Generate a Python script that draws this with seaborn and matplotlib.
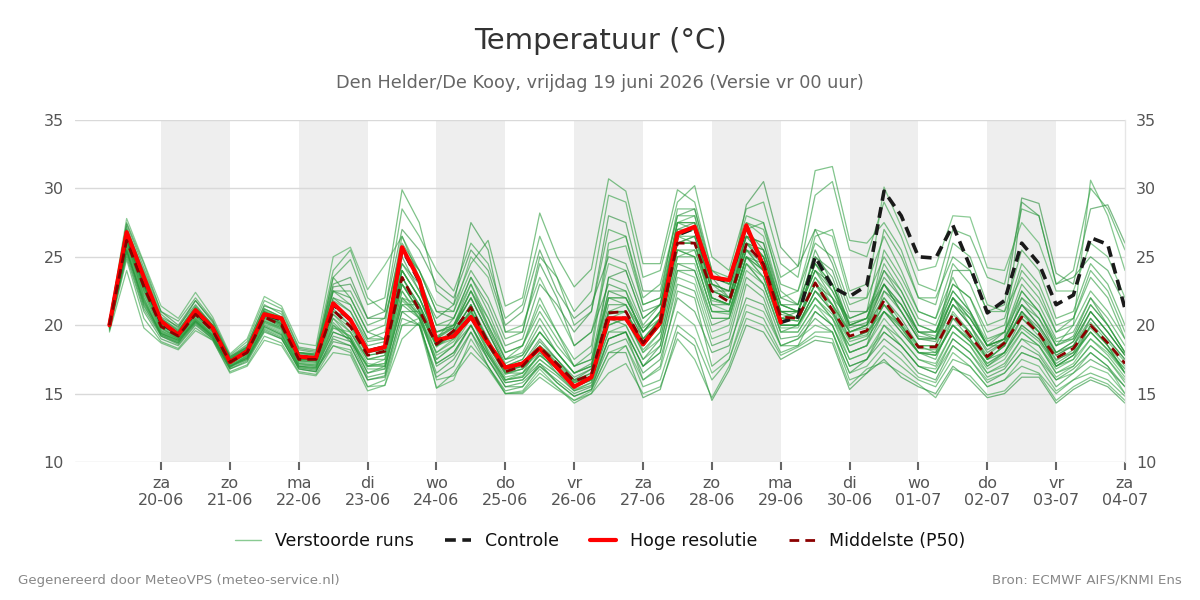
import numpy as np
import pandas as pd
import matplotlib
matplotlib.use("Agg")
import matplotlib.pyplot as plt
from matplotlib.lines import Line2D
import seaborn as sns

# ---------------- data ----------------
start_time = "2026-06-19 06:00"
n_steps = 60  # 6-hourly

hoge_resolutie = [20.0, 26.8, 23.5, 20.3, 19.3, 21.1, 19.8, 17.3, 18.1, 20.8, 20.5, 17.7, 17.6,
                  21.6, 20.4, 18.1, 18.4, 25.7, 23.3, 18.9, 19.2, 20.6, 18.7, 16.9, 17.2, 18.3,
                  16.9, 15.5, 16.2, 20.5, 20.5, 18.6, 20.2, 26.7, 27.2, 23.5, 23.3, 27.3, 24.3, 20.2]

controle = [20.0, 26.6, 23.4, 20.2, 19.3, 21.0, 19.8, 17.3, 18.1, 20.8, 20.4, 17.7, 17.6,
            21.5, 20.4, 18.1, 18.4, 25.6, 23.2, 18.9, 19.2, 20.6, 18.7, 16.9, 17.2, 18.3,
            16.9, 15.5, 16.2, 20.5, 20.5, 18.6, 20.2, 26.6, 27.1, 23.5, 23.2, 27.2, 24.3, 20.2,
            20.6, 25.0, 22.8, 22.1, 22.9, 29.8, 28.0, 25.0, 24.9, 27.3, 24.3, 20.9, 21.8, 26.0,
            24.5, 21.5, 22.2, 26.4, 25.9, 21.2]

middelste_p50 = [20.0, 26.2, 22.8, 19.9, 19.2, 20.8, 19.6, 17.3, 18.0, 20.6, 20.0, 17.5, 17.5,
                 21.1, 19.9, 17.8, 18.1, 23.5, 21.1, 18.6, 19.6, 21.3, 18.7, 16.6, 17.0, 18.4,
                 17.2, 15.9, 16.4, 20.9, 21.0, 18.7, 20.2, 26.0, 26.0, 22.5, 21.7, 25.9, 24.5, 20.6,
                 20.5, 23.1, 21.1, 19.2, 19.6, 21.8, 20.1, 18.4, 18.4, 20.8, 19.2, 17.7, 18.7, 20.6,
                 19.4, 17.6, 18.3, 20.0, 18.7, 17.2]

members = [
    [20.1, 27.5, 24.5, 21.0, 20.3, 22.0, 20.4, 17.8, 18.8, 21.8, 21.2, 18.4, 18.2,
     24.0, 25.5, 22.0, 21.0, 28.5, 26.5, 24.0, 22.5, 26.0, 24.5, 20.5, 21.5, 26.5, 23.5, 21.0, 22.5,
     29.5, 29.0, 23.5, 24.0, 29.0, 30.2, 25.0, 24.0, 28.5, 29.0, 24.5, 23.5, 29.5, 30.5, 25.5, 25.0,
     29.0, 26.5, 23.0, 22.5, 27.0, 26.5, 23.5, 23.0, 28.5, 28.0, 23.0, 24.0, 30.0, 28.5, 25.5],
    [19.5, 24.0, 19.8, 18.7, 18.2, 19.6, 18.9, 16.5, 17.0, 18.9, 18.5, 16.5, 16.3,
     18.0, 17.8, 15.2, 15.6, 19.0, 20.2, 16.0, 16.3, 18.0, 16.8, 15.0, 15.1, 16.5, 15.5, 14.3, 15.0,
     16.5, 17.2, 15.0, 15.5, 19.0, 17.5, 14.7, 17.0, 20.5, 20.0, 17.8, 18.4, 19.2, 19.0, 15.6, 16.8,
     17.3, 16.5, 15.7, 14.7, 16.8, 16.3, 14.9, 15.2, 16.5, 16.4, 14.5, 15.5, 16.2, 15.7, 14.5],
    [20.0, 26.8, 23.5, 20.3, 19.5, 21.2, 19.9, 17.5, 18.3, 21.0, 20.3, 17.8, 17.7,
     22.0, 21.0, 18.5, 18.8, 25.0, 22.5, 19.5, 20.0, 22.5, 19.8, 17.2, 17.8, 20.0, 18.0, 16.5, 17.2,
     22.5, 22.0, 19.5, 21.0, 27.0, 27.5, 23.0, 22.5, 27.0, 25.5, 21.0, 21.0, 24.5, 22.5, 19.8, 20.2,
     23.0, 21.0, 19.0, 19.0, 22.0, 20.0, 18.2, 19.0, 21.5, 20.0, 18.0, 18.8, 21.0, 19.5, 17.8],
    [19.9, 25.8, 22.2, 19.6, 19.0, 20.4, 19.3, 17.1, 17.7, 20.2, 19.7, 17.2, 17.1,
     20.5, 19.0, 17.0, 17.5, 22.5, 20.5, 18.0, 19.0, 20.5, 18.0, 16.0, 16.5, 17.8, 16.8, 15.5, 16.0,
     20.0, 20.5, 18.0, 19.5, 25.0, 25.5, 21.5, 21.0, 25.0, 23.5, 20.0, 20.0, 22.0, 20.5, 18.5, 19.0,
     21.0, 19.5, 18.0, 17.8, 20.0, 18.8, 17.2, 18.0, 20.0, 19.0, 17.0, 17.8, 19.5, 18.2, 16.8],
    [20.2, 27.0, 24.0, 20.8, 19.8, 21.8, 20.2, 17.6, 18.5, 21.5, 20.8, 18.0, 17.9,
     23.5, 24.8, 21.5, 22.0, 29.9, 27.5, 22.5, 21.5, 24.5, 26.2, 21.4, 22.0, 28.2, 25.0, 22.8, 24.1,
     30.7, 29.8, 24.5, 24.5, 29.9, 29.0, 24.0, 23.0, 27.5, 27.0, 23.0, 22.5, 26.0, 25.0, 21.5, 22.0,
     25.0, 23.0, 20.5, 20.0, 23.0, 22.0, 19.5, 20.0, 24.0, 22.5, 19.5, 20.5, 23.5, 22.0, 19.0],
    [19.8, 25.0, 21.0, 19.0, 18.5, 20.0, 19.0, 16.8, 17.3, 19.5, 19.0, 16.9, 16.7,
     19.0, 18.5, 16.0, 16.3, 21.0, 20.0, 16.5, 17.5, 19.5, 17.5, 15.5, 15.8, 17.0, 16.0, 15.0, 15.5,
     18.5, 19.0, 16.5, 17.5, 22.0, 21.0, 18.0, 18.5, 22.0, 21.5, 18.5, 19.0, 20.5, 19.5, 16.5, 17.5,
     19.0, 18.0, 16.5, 16.0, 18.5, 17.5, 15.8, 16.5, 18.0, 17.5, 15.5, 16.5, 17.5, 16.8, 15.5],
    [20.0, 26.5, 23.0, 20.0, 19.3, 20.9, 19.7, 17.4, 18.1, 20.8, 20.2, 17.6, 17.6,
     21.5, 20.5, 18.0, 18.3, 24.0, 22.0, 19.0, 20.5, 23.0, 20.0, 17.5, 18.5, 22.0, 19.5, 17.0, 18.0,
     25.5, 25.8, 21.5, 22.0, 28.5, 28.5, 24.0, 23.5, 28.0, 27.5, 22.5, 21.5, 26.5, 27.0, 22.5, 23.0,
     26.5, 24.0, 21.0, 20.5, 23.5, 21.0, 18.5, 18.5, 21.0, 19.5, 17.0, 17.5, 20.0, 18.5, 16.5],
    [20.1, 26.0, 22.5, 19.7, 19.1, 20.6, 19.5, 17.2, 17.9, 20.4, 19.8, 17.4, 17.3,
     20.8, 19.5, 17.5, 17.8, 23.0, 21.0, 18.4, 19.4, 21.0, 18.5, 16.4, 16.8, 18.2, 17.0, 15.8, 16.2,
     21.0, 21.0, 18.5, 20.0, 26.0, 26.0, 22.0, 21.5, 25.5, 24.0, 20.5, 20.3, 23.0, 21.0, 19.0, 19.5,
     21.5, 20.0, 18.3, 18.2, 20.5, 19.0, 17.5, 18.5, 20.5, 19.2, 17.4, 18.2, 19.8, 18.5, 17.0],
    [19.7, 25.5, 21.8, 19.4, 18.8, 20.3, 19.2, 17.0, 17.6, 20.0, 19.4, 17.1, 17.0,
     20.0, 18.8, 17.0, 17.0, 22.0, 20.8, 17.5, 18.5, 20.0, 17.8, 16.0, 16.2, 18.0, 16.5, 15.5, 16.0,
     20.5, 20.0, 17.5, 19.0, 24.5, 24.0, 20.0, 20.5, 24.5, 23.0, 19.5, 20.0, 22.5, 21.5, 18.0, 18.5,
     22.5, 21.5, 19.5, 19.0, 24.0, 24.0, 21.0, 21.5, 29.3, 28.9, 23.8, 23.0, 28.5, 28.8, 26.0],
    [20.3, 27.8, 24.6, 21.4, 20.5, 22.4, 20.6, 17.9, 19.0, 22.1, 21.4, 18.7, 18.5,
     25.0, 25.7, 22.6, 24.4, 26.5, 24.0, 21.5, 21.0, 25.0, 23.5, 19.5, 20.0, 23.5, 21.0, 18.5, 19.5,
     24.5, 24.0, 20.5, 21.5, 27.5, 28.0, 23.0, 22.5, 27.5, 26.5, 22.0, 22.5, 27.0, 26.5, 22.0, 22.0,
     30.1, 27.2, 24.0, 24.3, 28.0, 27.9, 24.2, 24.0, 27.5, 26.0, 22.5, 22.5, 26.0, 25.0, 22.0],
    [19.9, 26.3, 22.0, 19.2, 18.7, 20.5, 19.3, 16.9, 17.8, 20.3, 19.8, 17.0, 16.8,
     19.5, 19.0, 16.5, 17.0, 21.5, 21.5, 18.5, 19.5, 21.0, 19.0, 16.5, 16.5, 18.5, 17.5, 16.0, 16.0,
     19.5, 19.5, 16.0, 17.0, 22.5, 22.0, 17.0, 18.0, 23.0, 22.0, 18.5, 18.5, 21.0, 20.0, 17.0, 17.5,
     20.0, 19.0, 17.5, 17.0, 19.5, 18.5, 16.5, 17.2, 19.0, 18.5, 16.5, 17.0, 18.5, 17.5, 15.8],
    [20.0, 26.6, 23.2, 20.1, 19.4, 21.0, 19.8, 17.4, 18.2, 20.9, 20.4, 17.9, 17.8,
     22.5, 22.0, 19.5, 19.0, 24.5, 23.0, 20.5, 21.5, 27.5, 25.5, 19.5, 19.5, 24.5, 22.0, 18.5, 19.5,
     23.0, 22.5, 19.0, 20.0, 25.5, 25.0, 21.0, 21.0, 25.0, 24.5, 20.5, 21.0, 25.5, 23.0, 19.5, 20.0,
     22.0, 20.5, 18.5, 18.5, 21.5, 20.0, 17.5, 18.5, 21.0, 19.5, 17.5, 18.0, 20.5, 19.0, 17.5],
    [19.6, 24.8, 20.5, 18.8, 18.3, 19.8, 18.9, 16.6, 17.1, 19.2, 18.7, 16.6, 16.4,
     18.5, 18.0, 15.5, 16.0, 20.0, 20.0, 15.4, 16.5, 18.5, 17.0, 15.0, 15.0, 16.2, 15.3, 14.5, 15.0,
     17.5, 18.5, 15.5, 16.0, 20.0, 19.0, 16.0, 17.5, 21.0, 20.5, 18.0, 18.5, 19.5, 19.5, 16.0, 16.5,
     18.0, 17.0, 16.0, 15.5, 17.5, 17.0, 15.5, 16.0, 17.0, 16.5, 15.0, 16.0, 16.5, 16.0, 14.8],
    [20.0, 26.2, 22.7, 19.9, 19.1, 20.8, 19.6, 17.3, 18.0, 20.6, 20.0, 17.5, 17.4,
     21.0, 20.0, 17.8, 18.0, 23.5, 21.5, 18.8, 19.6, 21.5, 18.8, 16.7, 17.0, 18.5, 17.3, 16.0, 16.5,
     21.0, 21.5, 19.0, 20.5, 26.5, 26.5, 22.5, 22.0, 26.0, 24.5, 20.8, 20.5, 23.5, 21.5, 19.5, 19.8,
     22.0, 20.2, 18.5, 18.5, 20.8, 19.5, 17.8, 18.8, 20.8, 19.5, 17.8, 18.5, 20.2, 18.8, 17.3],
    [20.2, 27.2, 23.8, 20.6, 19.9, 21.5, 20.0, 17.7, 18.4, 21.2, 20.6, 18.2, 18.0,
     22.8, 23.0, 20.5, 20.5, 26.0, 24.0, 21.0, 20.5, 23.5, 21.5, 18.5, 19.0, 23.0, 21.5, 19.5, 21.0,
     28.0, 27.5, 22.5, 22.5, 28.0, 28.5, 23.5, 22.0, 26.5, 26.0, 21.5, 21.5, 25.0, 24.0, 20.5, 21.0,
     24.0, 22.0, 19.5, 19.5, 22.5, 21.0, 18.5, 19.5, 22.0, 20.5, 18.5, 19.2, 22.0, 20.0, 18.0],
    [19.8, 25.6, 21.5, 19.3, 18.8, 20.2, 19.1, 17.0, 17.5, 19.9, 19.3, 17.0, 16.9,
     19.8, 19.2, 16.8, 16.8, 21.8, 20.6, 17.2, 18.0, 20.0, 17.5, 15.8, 16.0, 17.5, 16.5, 15.2, 15.8,
     19.0, 19.5, 17.0, 18.0, 23.5, 23.0, 19.0, 19.5, 24.0, 23.0, 19.5, 19.5, 21.5, 20.5, 17.5, 18.0,
     20.0, 18.5, 17.0, 16.5, 18.5, 17.5, 16.0, 16.5, 18.0, 17.5, 16.0, 16.5, 18.0, 17.0, 15.0],
    [20.0, 26.4, 23.0, 20.0, 19.3, 20.9, 19.7, 17.3, 18.1, 20.7, 20.1, 17.6, 17.5,
     21.5, 20.5, 18.2, 18.5, 24.0, 22.0, 19.2, 19.8, 22.0, 19.5, 17.0, 17.5, 19.5, 18.0, 16.5, 17.0,
     22.0, 22.0, 19.5, 21.0, 26.5, 27.0, 22.5, 22.5, 26.5, 25.0, 21.0, 21.0, 24.0, 22.0, 20.5, 21.0,
     27.0, 25.0, 22.0, 21.5, 26.0, 25.0, 21.5, 21.0, 25.5, 24.0, 20.5, 21.0, 24.5, 23.0, 20.0],
    [19.8, 25.2, 21.2, 19.2, 18.6, 20.1, 19.0, 16.8, 17.4, 19.7, 19.1, 16.8, 16.6,
     19.2, 18.8, 16.2, 16.5, 21.0, 21.0, 17.0, 17.8, 20.0, 17.5, 15.5, 15.5, 17.2, 15.8, 14.8, 15.3,
     18.0, 18.0, 14.7, 15.3, 19.5, 18.5, 14.5, 16.7, 20.0, 19.5, 17.5, 18.2, 18.9, 18.7, 15.3, 16.5,
     17.5, 16.2, 15.5, 15.0, 17.0, 16.0, 14.7, 15.0, 16.2, 16.2, 14.3, 15.3, 16.0, 15.5, 14.3],
    [20.1, 26.9, 23.6, 20.5, 19.7, 21.3, 20.0, 17.6, 18.4, 21.0, 20.5, 18.0, 17.8,
     22.5, 21.5, 19.0, 19.5, 25.5, 23.5, 20.0, 20.0, 23.0, 20.5, 18.0, 18.5, 21.5, 19.5, 17.5, 18.5,
     26.0, 26.5, 22.0, 23.0, 28.0, 28.0, 23.5, 23.0, 27.0, 27.5, 23.5, 24.3, 31.3, 31.6, 26.2, 26.0,
     27.5, 25.5, 22.0, 22.0, 25.0, 24.0, 21.0, 21.0, 23.5, 22.0, 19.5, 20.0, 22.5, 21.0, 19.0],
    [19.9, 26.1, 22.5, 19.8, 19.0, 20.7, 19.5, 17.2, 17.9, 20.5, 19.9, 17.4, 17.3,
     20.5, 19.5, 17.5, 17.5, 23.0, 21.5, 18.5, 19.0, 21.0, 18.5, 16.5, 16.8, 18.0, 17.0, 15.8, 16.3,
     20.5, 21.0, 18.5, 20.0, 25.5, 25.0, 21.0, 21.0, 25.0, 24.0, 20.0, 20.0, 22.5, 21.0, 18.8, 19.2,
     21.5, 20.0, 18.5, 18.0, 21.0, 19.5, 17.5, 18.5, 22.0, 21.0, 18.5, 20.0, 30.6, 28.0, 24.0],
    [20.2, 27.4, 24.2, 21.0, 20.0, 21.8, 20.3, 17.7, 18.6, 21.4, 21.0, 18.3, 18.1,
     23.0, 23.5, 20.5, 21.0, 27.0, 25.5, 23.0, 22.0, 25.5, 24.0, 20.0, 21.0, 25.5, 22.5, 20.5, 21.5,
     25.0, 24.5, 21.0, 21.5, 26.0, 26.0, 21.5, 21.5, 25.5, 25.0, 21.0, 20.5, 23.0, 22.0, 19.0, 19.5,
     21.0, 19.5, 18.0, 18.0, 20.0, 19.0, 17.0, 18.0, 20.0, 19.0, 17.2, 18.0, 19.5, 18.2, 16.5],
    [19.7, 25.3, 21.6, 19.4, 18.9, 20.3, 19.2, 17.0, 17.6, 19.8, 19.2, 16.9, 16.8,
     18.5, 18.2, 15.5, 15.6, 20.0, 20.5, 15.4, 16.0, 19.0, 17.0, 15.0, 15.2, 16.8, 15.5, 14.5, 15.2,
     18.0, 18.5, 16.0, 16.8, 21.0, 20.0, 16.5, 17.5, 21.5, 21.0, 18.5, 19.0, 20.0, 19.5, 16.5, 17.0,
     18.5, 17.5, 16.2, 15.8, 18.0, 17.0, 15.5, 16.0, 17.5, 17.0, 15.2, 16.0, 17.0, 16.5, 15.0],
    [20.1, 26.7, 23.3, 20.2, 19.5, 21.1, 19.9, 17.5, 18.2, 21.0, 20.4, 17.8, 17.7,
     22.0, 21.5, 19.0, 19.0, 24.5, 22.5, 19.5, 20.0, 22.5, 20.0, 17.5, 18.0, 20.5, 18.5, 17.0, 17.5,
     23.5, 23.0, 20.0, 21.5, 27.5, 27.0, 22.5, 22.0, 26.0, 25.5, 21.5, 21.0, 24.0, 22.5, 20.0, 20.5,
     24.0, 22.5, 20.0, 19.5, 23.0, 22.0, 19.0, 19.5, 23.0, 21.5, 19.0, 19.5, 22.0, 20.5, 18.5],
    [20.0, 26.3, 22.9, 20.0, 19.2, 20.8, 19.6, 17.3, 18.0, 20.6, 20.0, 17.5, 17.5,
     21.0, 20.5, 18.0, 18.2, 23.0, 21.0, 18.5, 19.5, 21.5, 19.0, 16.8, 17.0, 18.8, 17.5, 16.0, 16.8,
     21.5, 21.5, 19.5, 21.0, 26.5, 26.0, 22.0, 21.5, 25.5, 24.5, 21.0, 21.0, 24.0, 23.0, 20.0, 20.5,
     23.5, 22.0, 19.5, 19.5, 22.0, 20.5, 18.5, 19.0, 29.0, 28.0, 23.0, 23.5, 25.0, 24.0, 21.5],
    [20.0, 26.5, 23.1, 20.1, 19.4, 21.0, 19.8, 17.4, 18.1, 20.8, 20.2, 17.7, 17.6,
     21.8, 21.0, 18.8, 19.0, 24.0, 22.0, 19.5, 19.8, 22.5, 20.5, 17.5, 17.8, 19.5, 18.0, 16.5, 17.0,
     22.5, 22.5, 19.8, 20.8, 27.5, 27.5, 23.5, 23.0, 26.5, 25.0, 21.5, 21.0, 24.5, 23.0, 20.2, 20.5,
     24.5, 22.5, 20.0, 19.5, 22.5, 21.0, 18.8, 19.5, 22.5, 21.0, 18.8, 19.0, 21.5, 20.0, 18.0],
    [19.9, 25.9, 22.3, 19.6, 19.0, 20.5, 19.4, 17.1, 17.8, 20.3, 19.7, 17.3, 17.2,
     20.2, 19.0, 17.0, 17.2, 22.5, 20.8, 18.0, 18.8, 20.8, 18.2, 16.2, 16.5, 17.8, 16.8, 15.5, 16.0,
     20.0, 20.5, 18.2, 19.5, 25.0, 25.0, 21.0, 20.8, 25.0, 23.5, 20.0, 20.0, 22.0, 20.8, 18.5, 19.0,
     21.0, 19.8, 18.0, 17.8, 20.0, 18.8, 17.2, 18.0, 19.8, 18.8, 17.0, 17.8, 19.5, 18.2, 16.8],
    [20.0, 26.2, 22.9, 20.0, 19.3, 20.9, 19.6, 17.3, 18.0, 20.7, 20.1, 17.5, 17.5,
     21.2, 20.0, 17.8, 18.0, 23.5, 21.2, 18.6, 19.5, 21.5, 18.7, 16.6, 17.0, 18.5, 17.2, 15.9, 16.5,
     21.0, 21.0, 18.8, 20.5, 26.0, 26.5, 23.0, 22.5, 28.8, 30.5, 25.7, 24.3, 27.0, 24.5, 21.0, 21.0,
     23.0, 21.0, 19.0, 18.8, 21.5, 20.0, 18.0, 18.8, 21.0, 19.8, 17.8, 18.5, 20.5, 19.0, 17.5],
    [19.9, 25.7, 21.9, 19.5, 18.9, 20.4, 19.3, 17.0, 17.7, 20.1, 19.5, 17.2, 17.0,
     19.8, 19.5, 17.2, 17.0, 22.0, 21.5, 17.8, 18.5, 21.0, 18.0, 16.0, 16.2, 17.5, 16.5, 15.3, 15.8,
     19.5, 20.0, 17.5, 18.5, 24.0, 23.5, 19.5, 20.0, 24.5, 23.0, 19.5, 19.5, 21.5, 20.0, 17.5, 18.0,
     19.5, 18.5, 17.0, 16.8, 19.0, 18.0, 16.5, 17.0, 19.0, 18.0, 16.2, 17.0, 18.5, 17.5, 16.0],
    [20.1, 26.9, 23.8, 20.5, 19.6, 21.4, 20.0, 17.5, 18.4, 21.2, 20.6, 18.0, 17.9,
     23.5, 22.0, 19.5, 20.0, 26.5, 23.5, 20.0, 20.5, 23.5, 21.0, 18.0, 18.5, 21.0, 19.0, 17.0, 17.5,
     22.0, 21.5, 19.0, 20.5, 26.0, 26.5, 22.0, 21.5, 26.0, 25.0, 21.0, 20.5, 23.0, 21.5, 19.5, 20.0,
     22.5, 21.0, 19.0, 19.0, 21.5, 20.5, 18.5, 19.0, 21.5, 20.5, 18.0, 18.8, 21.0, 19.5, 17.8],
    [19.8, 25.4, 21.4, 19.3, 18.7, 20.2, 19.1, 16.9, 17.5, 19.6, 19.0, 16.8, 16.6,
     18.8, 18.5, 16.0, 16.2, 20.5, 20.0, 16.2, 17.0, 19.5, 17.0, 15.2, 15.5, 17.0, 15.8, 14.8, 15.3,
     19.0, 19.5, 17.0, 18.5, 24.0, 24.0, 20.5, 20.5, 25.0, 24.0, 20.0, 20.0, 22.5, 21.0, 18.0, 18.5,
     21.0, 20.0, 18.0, 17.5, 20.5, 19.5, 17.5, 18.0, 20.5, 19.5, 17.0, 17.8, 20.0, 18.5, 16.5],
    [20.1, 26.6, 23.0, 20.1, 19.4, 21.1, 19.8, 17.4, 18.2, 20.9, 20.3, 17.7, 17.6,
     21.5, 20.5, 18.2, 18.5, 24.0, 22.0, 19.0, 20.0, 22.0, 19.5, 17.0, 17.5, 19.5, 18.0, 16.5, 17.0,
     22.0, 22.0, 19.5, 20.5, 26.0, 26.0, 22.0, 21.5, 26.0, 24.5, 20.5, 20.5, 23.5, 22.0, 19.5, 20.0,
     25.5, 23.5, 21.0, 20.5, 24.5, 23.0, 20.0, 20.5, 24.5, 23.0, 20.0, 20.5, 24.0, 22.5, 19.5],
    [20.0, 26.0, 22.6, 19.8, 19.1, 20.7, 19.5, 17.2, 17.9, 20.5, 19.9, 17.4, 17.4,
     20.8, 19.8, 17.5, 17.8, 23.0, 21.0, 18.5, 19.2, 21.2, 18.5, 16.5, 16.8, 18.3, 17.0, 15.8, 16.3,
     20.8, 21.0, 18.8, 20.0, 25.5, 25.5, 21.8, 21.5, 25.5, 24.0, 20.5, 20.3, 23.0, 21.5, 19.0, 19.3,
     21.5, 19.8, 18.0, 17.8, 20.0, 18.8, 17.0, 17.8, 19.5, 18.5, 16.8, 17.5, 19.0, 17.8, 16.2],
    [20.0, 26.4, 22.8, 20.0, 19.3, 20.9, 19.7, 17.3, 18.1, 20.7, 20.1, 17.6, 17.5,
     21.5, 20.5, 18.0, 18.3, 23.5, 21.5, 19.0, 19.8, 22.0, 19.5, 17.0, 17.2, 19.0, 17.5, 16.2, 16.8,
     23.5, 24.0, 20.5, 21.5, 27.0, 27.0, 22.5, 22.0, 26.5, 26.0, 22.0, 21.5, 25.0, 23.5, 20.0, 20.0,
     23.0, 21.5, 19.2, 19.0, 22.0, 20.8, 18.5, 19.0, 21.5, 20.0, 18.0, 18.5, 21.0, 19.5, 17.8],
    [19.9, 25.8, 22.0, 19.5, 19.0, 20.4, 19.3, 17.1, 17.7, 20.2, 19.6, 17.2, 17.1,
     20.0, 19.2, 17.0, 17.2, 22.0, 20.5, 17.5, 18.5, 20.5, 18.0, 16.0, 16.3, 17.8, 16.8, 15.5, 16.0,
     20.0, 20.5, 18.0, 19.0, 24.5, 24.5, 20.5, 20.5, 24.5, 23.5, 19.8, 19.8, 22.0, 20.5, 18.0, 18.5,
     20.5, 19.0, 17.5, 17.2, 19.5, 18.5, 16.8, 17.5, 19.5, 18.5, 16.5, 17.2, 19.0, 18.0, 16.5],
    [20.1, 27.0, 23.5, 20.4, 19.6, 21.3, 20.0, 17.6, 18.3, 21.1, 20.5, 18.0, 17.8,
     22.5, 22.5, 20.0, 20.5, 25.5, 24.0, 21.0, 21.0, 24.0, 22.0, 19.0, 19.5, 25.0, 23.5, 20.0, 21.0,
     27.0, 26.5, 21.5, 22.0, 27.5, 27.5, 23.0, 22.0, 26.0, 25.5, 21.5, 21.0, 24.5, 23.0, 20.0, 20.5,
     23.0, 21.5, 19.5, 19.2, 22.0, 20.5, 18.5, 19.0, 22.5, 21.0, 18.5, 19.0, 21.5, 20.0, 18.0],
    [19.8, 25.5, 21.7, 19.4, 18.9, 20.3, 19.2, 17.0, 17.6, 19.9, 19.3, 17.0, 16.9,
     19.5, 19.0, 16.5, 16.8, 21.5, 20.5, 17.2, 18.0, 20.0, 17.8, 15.8, 16.0, 17.2, 16.3, 15.2, 15.6,
     19.0, 19.5, 17.0, 18.0, 23.0, 22.5, 18.5, 19.0, 23.5, 22.5, 19.0, 19.2, 21.0, 20.0, 17.0, 17.5,
     19.5, 18.5, 17.0, 16.5, 19.0, 18.0, 16.2, 16.8, 18.5, 17.8, 16.0, 16.8, 18.0, 17.0, 15.5],
]

weekday_nl = ["ma", "di", "wo", "do", "vr", "za", "zo"]
title_text = "Temperatuur (°C)"
subtitle_text = "Den Helder/De Kooy, vrijdag 19 juni 2026 (Versie vr 00 uur)"
legend_labels = ["Verstoorde runs", "Controle", "Hoge resolutie", "Middelste (P50)"]
footer_left = "Gegenereerd door MeteoVPS (meteo-service.nl)"
footer_right = "Bron: ECMWF AIFS/KNMI Ens"

# ---------------- build frames ----------------
times = pd.date_range(start_time, periods=n_steps, freq="6h")
rows = []
for m, vals in enumerate(members):
    for t, v in zip(times, vals):
        rows.append({"time": t, "temp": v, "member": f"m{m}"})
ens_df = pd.DataFrame(rows)

sns.set_theme(style="white")
plt.rcParams["font.family"] = ["DejaVu Sans"]

fig = plt.figure(figsize=(12, 6), dpi=100)
ax = fig.add_axes([0.0625, 0.23, 0.875, 0.57])

xmin = pd.Timestamp("2026-06-18 18:00")
xmax = pd.Timestamp("2026-07-04 00:00")
days = pd.date_range("2026-06-20", "2026-07-04", freq="D")

# alternating day shading
for d in days[::2][:-1]:
    ax.axvspan(d, d + pd.Timedelta(days=1), color="#eeeeee", lw=0, zorder=0)

for y in range(10, 36, 5):
    ax.axhline(y, color="#d9d9d9", lw=1, zorder=0.5)

greens = ["#2e9e40", "#34a346", "#238b35", "#3fa94f", "#2a9a3a", "#1f8f33"]
pal = {f"m{i}": greens[i % len(greens)] for i in range(len(members))}
sns.lineplot(data=ens_df, x="time", y="temp", units="member", hue="member",
             estimator=None, palette=pal, lw=0.9, alpha=0.6, legend=False, ax=ax, zorder=2)

sns.lineplot(x=times, y=controle, color="#1a1a1a", lw=2.6, ax=ax, zorder=3,
             linestyle=(0, (3, 1.8)))
sns.lineplot(x=times[:len(hoge_resolutie)], y=hoge_resolutie, color="#ff0000", lw=3.0,
             ax=ax, zorder=4)
sns.lineplot(x=times, y=middelste_p50, color="#8b0000", lw=2.0, ax=ax, zorder=5,
             linestyle=(0, (3.5, 2.2)))

ax.set_xlim(xmin, xmax)
ax.set_ylim(10, 35)
ax.set_yticks(range(10, 36, 5))
ax.set_xticks(days)
ax.set_xticklabels([f"{weekday_nl[d.weekday()]}\n{d.strftime('%d-%m')}" for d in days])
ax.set_xlabel("")
ax.set_ylabel("")
ax.tick_params(axis="x", length=6, width=1.5, color="#666666", labelsize=11.5,
               labelcolor="#555555", pad=4, bottom=True)
ax.tick_params(axis="y", length=0, labelsize=11.5, labelcolor="#555555", pad=8,
               labelleft=True, labelright=True)
for s in ["top", "left", "bottom"]:
    ax.spines[s].set_visible(False)
ax.spines["right"].set_color("#e6e6e6")
ax.spines["right"].set_linewidth(1)
ax.grid(False)

fig.text(0.5, 0.932, title_text, ha="center", va="center", fontsize=21, color="#333333")
fig.text(0.5, 0.862, subtitle_text, ha="center", va="center", fontsize=12.7, color="#666666")

handles = [
    Line2D([0], [0], color="#3aa84a", lw=1, alpha=0.6),
    Line2D([0], [0], color="#1a1a1a", lw=2.6, linestyle=(0, (3, 1.8))),
    Line2D([0], [0], color="#ff0000", lw=3.0),
    Line2D([0], [0], color="#8b0000", lw=2.0, linestyle=(0, (3.5, 2.2))),
]
fig.legend(handles, legend_labels, loc="center", bbox_to_anchor=(0.5, 0.098), ncol=4,
           frameon=False, fontsize=12.5, handlelength=1.5, columnspacing=1.8,
           labelcolor="#111111")

fig.text(0.015, 0.033, footer_left, ha="left", va="center", fontsize=9.6, color="#888888")
fig.text(0.985, 0.033, footer_right, ha="right", va="center", fontsize=9.6, color="#888888")

fig.savefig("out.png", dpi=100)
